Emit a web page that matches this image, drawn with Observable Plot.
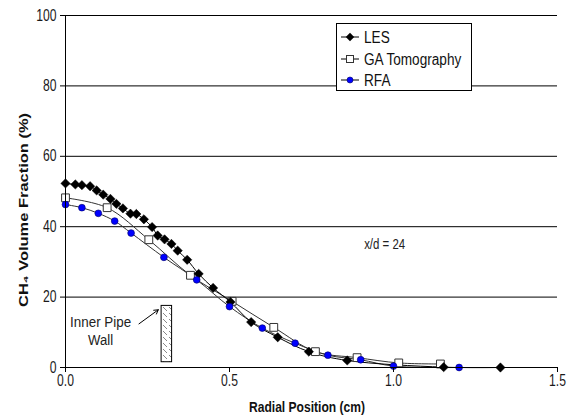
<!DOCTYPE html>
<html><head><meta charset="utf-8">
<script src="https://cdn.jsdelivr.net/npm/d3@7"></script>
<script src="https://cdn.jsdelivr.net/npm/@observablehq/plot@0.6"></script>
<style>
body{margin:0;background:#fff}
#chart{position:relative;width:570px;height:416px}
</style>
</head><body><div id="chart"></div>
<script>
// LES (black diamonds)
const lesR = [0.0, 0.03, 0.05, 0.075, 0.095, 0.115, 0.137, 0.155, 0.175, 0.198, 0.216, 0.239, 0.264, 0.281, 0.302, 0.323, 0.342, 0.371, 0.406, 0.45, 0.503, 0.566, 0.647, 0.742, 0.859, 1.153, 1.326];
const lesV = [52.3, 52.0, 51.8, 51.5, 50.3, 49.1, 47.9, 46.5, 45.2, 43.7, 43.6, 42.1, 39.9, 37.5, 36.4, 35.1, 33.2, 30.6, 26.6, 22.6, 18.6, 12.9, 8.6, 4.5, 2.0, 0.1, 0.0];
// GA Tomography (open squares)
const gaR = [0.0, 0.127, 0.254, 0.381, 0.508, 0.635, 0.762, 0.889, 1.016, 1.143];
const gaV = [48.2, 45.4, 36.3, 26.2, 18.8, 11.4, 4.5, 2.8, 1.3, 1.0];
// RFA (blue circles)
const rfaR = [0.0, 0.05, 0.1, 0.15, 0.2, 0.3, 0.4, 0.5, 0.6, 0.7, 0.8, 0.9, 1.0, 1.2];
const rfaV = [46.3, 45.4, 43.8, 41.6, 38.2, 31.3, 24.9, 17.3, 11.2, 6.9, 3.5, 2.2, 0.4, 0.0];
// ticks
const xTicks = [0, 0.5, 1.0, 1.5];
const yTicks = [0, 20, 40, 60, 80, 100];
const gridY = [20, 40, 60, 80, 100];
// annotations (data coordinates)
const pipeWall = [{x1: 0.293, x2: 0.325, y1: 1.5, y2: 17.5}];
const pipeArrow = [{x1: 0.224, y1: 12.4, x2: 0.283, y2: 16.4}];
const pipeText = [{x: 0.107, y: 12.7, t: "Inner Pipe", w: 61}, {x: 0.107, y: 7.8, t: "Wall", w: 25}];
const caseText = [{x: 0.973, y: 34.8, t: "x/d = 24", w: 41}];
const seriesNames = ["LES", "GA Tomography", "RFA"];

const les = lesR.map((r, i) => ({r, v: lesV[i]}));
const ga = gaR.map((r, i) => ({r, v: gaV[i]}));
const rfa = rfaR.map((r, i) => ({r, v: rfaV[i]}));

const font = "'Liberation Sans', Arial, sans-serif";

const chart = Plot.plot({
  width: 570, height: 416,
  marginLeft: 65, marginRight: 13, marginTop: 15, marginBottom: 49,
  style: {fontFamily: font, fontSize: "16px", color: "#1a1a1a", background: "#fff"},
  x: {domain: [0, 1.5]},
  y: {domain: [0, 100]},
  marks: [
    Plot.ruleY(gridY, {stroke: "#000", strokeWidth: 1}),
    Plot.rect(pipeWall, {x1: "x1", x2: "x2", y1: "y1", y2: "y2", fill: "url(#hatch)", stroke: "#000", strokeWidth: 1}),
    Plot.arrow(pipeArrow, {x1: "x1", y1: "y1", x2: "x2", y2: "y2", stroke: "#000", strokeWidth: 1, headLength: 7, bend: 0}),
    Plot.text(pipeText, {x: "x", y: "y", text: "t", fontSize: 14, fill: "#222"}),
    Plot.text(caseText, {x: "x", y: "y", text: "t", fontSize: 14, fill: "#222"}),
    Plot.line(ga, {x: "r", y: "v", stroke: "#333", strokeWidth: 1, curve: "catmull-rom"}),
    Plot.line(rfa, {x: "r", y: "v", stroke: "#333", strokeWidth: 1, curve: "catmull-rom"}),
    Plot.line(les, {x: "r", y: "v", stroke: "#000", strokeWidth: 1, curve: "catmull-rom"}),
    Plot.dot(ga, {x: "r", y: "v", symbol: "square", r: 4.4, fill: "#fff", stroke: "#333", strokeWidth: 1}),
    Plot.dot(les, {x: "r", y: "v", symbol: "diamond2", r: 4.2, fill: "#000", stroke: "#000", strokeWidth: 0.5}),
    Plot.dot(rfa, {x: "r", y: "v", symbol: "circle", r: 3.4, fill: "#0000ff", stroke: "#000066", strokeWidth: 0.6}),
    Plot.axisX({ticks: xTicks, tickFormat: d3.format(".1f"), tickSize: 5, tickPadding: 2, label: null, stroke: "#000"}),
    Plot.axisY({ticks: yTicks, tickFormat: d3.format("d"), tickSize: 5, tickPadding: 4, label: null, stroke: "#000"}),
    Plot.ruleX([0], {stroke: "#000", strokeWidth: 1}),
    Plot.ruleY([0], {stroke: "#000", strokeWidth: 1})
  ]
});

document.getElementById("chart").appendChild(chart);

const svg = d3.select(chart);
// hatch pattern
const defs = svg.insert("defs", ":first-child");
const pat = defs.append("pattern").attr("id", "hatch").attr("patternUnits", "userSpaceOnUse")
  .attr("width", 6).attr("height", 6);
pat.append("rect").attr("width", 6).attr("height", 6).attr("fill", "#fff");
pat.append("path").attr("d", "M1,1 L5,5").attr("stroke", "#888").attr("stroke-width", 1);

// condense a text element horizontally (reference uses a narrow face)
function squeeze(el, factor, target) {
  const len = el.getComputedTextLength();
  const w = target != null ? target : len * factor;
  el.setAttribute("textLength", w);
  el.setAttribute("lengthAdjust", "spacingAndGlyphs");
}
// tick labels
svg.selectAll('g[aria-label="x-axis tick label"] text, g[aria-label="y-axis tick label"] text')
  .each(function() { squeeze(this, 0.76); });
// annotation texts
svg.selectAll('g[aria-label="text"] text').each(function() {
  const t = this.textContent;
  const all = pipeText.concat(caseText);
  const m = all.find(d => d.t === t);
  if (m) squeeze(this, 1, m.w);
});

// axis titles
const xt = svg.append("text").attr("x", 307).attr("y", 412).attr("text-anchor", "middle")
  .attr("font-family", font).attr("font-weight", "bold").attr("font-size", 15).attr("fill", "#111")
  .text("Radial Position (cm)");
squeeze(xt.node(), 1, 116);
const yt = svg.append("text").attr("transform", "translate(28,210) rotate(-90)").attr("text-anchor", "middle")
  .attr("font-family", font).attr("font-weight", "bold").attr("font-size", 13).attr("fill", "#111")
  .text("CH\u2084 Volume Fraction (%)");
squeeze(yt.node(), 1, 194);

// legend
const lg = svg.append("g").attr("text-anchor", "start");
lg.append("rect").attr("x", 336.5).attr("y", 23.5).attr("width", 135).attr("height", 67)
  .attr("fill", "#fff").attr("stroke", "#000");
const rowsY = [37, 59, 80];
seriesNames.forEach((name, i) => {
  const y = rowsY[i];
  lg.append("line").attr("x1", 341).attr("x2", 359).attr("y1", y).attr("y2", y).attr("stroke", "#000");
  if (i === 0) {
    lg.append("path").attr("transform", `translate(350,${y})`).attr("d", d3.symbol(d3.symbolDiamond2, 45)()).attr("fill", "#000");
  } else if (i === 1) {
    lg.append("rect").attr("x", 346.5).attr("y", y - 3.5).attr("width", 7).attr("height", 7).attr("fill", "#fff").attr("stroke", "#333");
  } else {
    lg.append("circle").attr("cx", 350).attr("cy", y).attr("r", 3).attr("fill", "#0000ff").attr("stroke", "#000066").attr("stroke-width", 0.6);
  }
  const tx = lg.append("text").attr("x", 364).attr("y", y + 5.5).attr("text-anchor", "start")
    .attr("font-family", font).attr("font-size", 16).attr("fill", "#111").text(name);
  squeeze(tx.node(), 0.85);
});
</script>
</body></html>
